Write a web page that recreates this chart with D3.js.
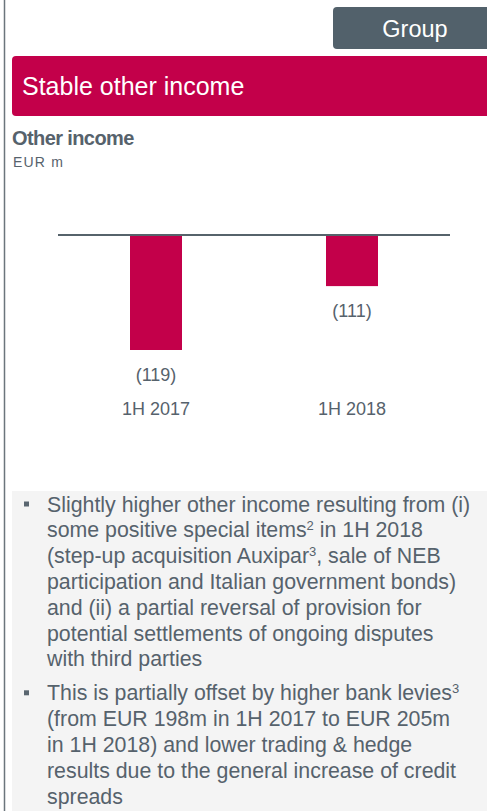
<!DOCTYPE html>
<html>
<head>
<meta charset="utf-8">
<script src="https://cdn.jsdelivr.net/npm/d3@7"></script>
<style>
  html, body { margin: 0; padding: 0; background: #fff; }
  svg { display: block; font-family: "Liberation Sans", Arial, sans-serif; }
</style>
</head>
<body>
<svg id="chart" width="487" height="811"></svg>
<script>
// chart data
var categories = ["1H 2017", "1H 2018"];
var values = [-119, -111];
var valueLabels = ["(119)", "(111)"];

// commentary, one entry per bullet, pre-broken into lines like the slide
var bullets = [
  [
    [["Slightly higher other income resulting from (i)"]],
    [["some positive special items"], ["2", "sup"], [" in 1H 2018"]],
    [["(step-up acquisition Auxipar"], ["3", "sup"], [", sale of NEB"]],
    [["participation and Italian government bonds)"]],
    [["and (ii) a partial reversal of provision for"]],
    [["potential settlements of ongoing disputes"]],
    [["with third parties"]]
  ],
  [
    [["This is partially offset by higher bank levies"], ["3", "sup"]],
    [["(from EUR 198m in 1H 2017 to EUR 205m"]],
    [["in 1H 2018) and lower trading & hedge"]],
    [["results due to the general increase of credit"]],
    [["spreads"]]
  ]
];

var red = "#c3004a", slate = "#52616b", textGrey = "#56626c";

var svg = d3.select("#chart");

// left page rule
svg.append("line")
  .attr("x1", 4.5).attr("x2", 4.5).attr("y1", 0).attr("y2", 811)
  .attr("stroke", "#6b757c").attr("stroke-width", 1.5);

// "Group" tab
svg.append("rect")
  .attr("x", 333).attr("y", 7).attr("width", 170).attr("height", 42)
  .attr("rx", 4).attr("fill", slate);
svg.append("text")
  .attr("x", 415).attr("y", 37)
  .attr("text-anchor", "middle")
  .attr("font-size", 23.5).attr("fill", "#fff")
  .text("Group");

// title banner
svg.append("rect")
  .attr("x", 12).attr("y", 56).attr("width", 490).attr("height", 60)
  .attr("rx", 4).attr("fill", red);
svg.append("text")
  .attr("x", 22).attr("y", 95)
  .attr("font-size", 25).attr("fill", "#fff")
  .text("Stable other income");

// chart heading
svg.append("text")
  .attr("x", 12).attr("y", 145)
  .attr("font-size", 20).attr("font-weight", "bold")
  .attr("letter-spacing", -0.6)
  .attr("fill", textGrey)
  .text("Other income");
svg.append("text")
  .attr("x", 13).attr("y", 167)
  .attr("font-size", 14).attr("letter-spacing", 1.2)
  .attr("fill", textGrey)
  .text("EUR m");

// scales - the slide truncates the axis, baseline sits around -104.6
var x = d3.scalePoint()
  .domain(categories)
  .range([58, 450])
  .padding(0.5);

var y = d3.scaleLinear()
  .domain([-104.6, -119])
  .range([235, 350]);

var barW = 52;
var data = categories.map(function(c, i) {
  return { cat: c, value: values[i], label: valueLabels[i] };
});

var g = svg.append("g");

g.selectAll("rect.bar")
  .data(data)
  .enter().append("rect")
  .attr("class", "bar")
  .attr("x", function(d) { return x(d.cat) - barW / 2; })
  .attr("y", y.range()[0])
  .attr("width", barW)
  .attr("height", function(d) { return y(d.value) - y.range()[0]; })
  .attr("fill", red);

// baseline
g.append("line")
  .attr("x1", x.range()[0]).attr("x2", x.range()[1])
  .attr("y1", y.range()[0]).attr("y2", y.range()[0])
  .attr("stroke", "#56636b").attr("stroke-width", 2);

// value labels under the bars
g.selectAll("text.val")
  .data(data)
  .enter().append("text")
  .attr("class", "val")
  .attr("x", function(d) { return x(d.cat); })
  .attr("y", function(d) { return y(d.value) + 31; })
  .attr("text-anchor", "middle")
  .attr("font-size", 18).attr("fill", textGrey)
  .text(function(d) { return d.label; });

// category axis labels
g.selectAll("text.cat")
  .data(data)
  .enter().append("text")
  .attr("class", "cat")
  .attr("x", function(d) { return x(d.cat); })
  .attr("y", 415)
  .attr("text-anchor", "middle")
  .attr("font-size", 18).attr("fill", textGrey)
  .text(function(d) { return d.cat; });

// commentary box
svg.append("rect")
  .attr("x", 12).attr("y", 491).attr("width", 475).attr("height", 320)
  .attr("fill", "#f4f4f4");

(function drawBullets() {
  var lineH = 25.8, firstBase = 511.5, bulletGap = 8.2;
  var yPos = firstBase;
  bullets.forEach(function(lines) {
    svg.append("rect")
      .attr("x", 24).attr("y", yPos - 10).attr("width", 5).attr("height", 5)
      .attr("fill", "#5a6670");
    lines.forEach(function(segs) {
      var t = svg.append("text")
        .attr("x", 47).attr("y", yPos)
        .attr("font-size", 21.33).attr("fill", textGrey);
      var raised = false;
      segs.forEach(function(s) {
        var ts = t.append("tspan").text(s[0]);
        if (s[1] === "sup") { ts.attr("font-size", 13).attr("dy", -7); raised = true; }
        else if (raised) { ts.attr("dy", 7); raised = false; }
      });
      yPos += lineH;
    });
    yPos += bulletGap;
  });
})();
</script>
</body>
</html>
